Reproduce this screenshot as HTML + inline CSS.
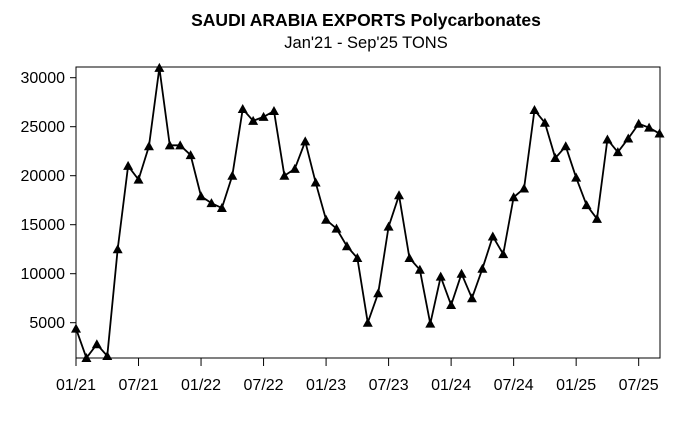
<!DOCTYPE html>
<html><head><meta charset="utf-8"><style>
body{margin:0;background:#fff;width:695px;height:425px;overflow:hidden}
svg text{font-family:"Liberation Sans",Arial,sans-serif;fill:#000}
</style></head><body>
<svg id="chart" width="695" height="425" xmlns="http://www.w3.org/2000/svg">
<text x="366" y="26" font-size="17.5" font-weight="bold" text-anchor="middle">SAUDI ARABIA EXPORTS Polycarbonates</text>
<text x="366" y="48" font-size="16.5" text-anchor="middle">Jan'21 - Sep'25 TONS</text>
<rect x="76" y="67" width="584" height="291" fill="none" stroke="#000" stroke-width="1"/>
<g id="axes"></g>
<g id="series"></g>
</svg>
<script>
const values=[4400,1400,2800,1600,12500,21000,19600,23000,31000,23100,23100,22100,
17900,17200,16700,20000,26800,25600,26000,26600,20000,20700,23500,19300,
15500,14600,12800,11600,5000,8000,14800,18000,11600,10400,4900,9700,
6800,10000,7500,10500,13800,12000,17800,18700,26700,25400,21800,23000,
19800,17000,15600,23700,22400,23800,25300,24900,24300];
const yTicks=[5000,10000,15000,20000,25000,30000];
const xTickIdx=[0,6,12,18,24,30,36,42,48,54];
const xTickLabels=["01/21","07/21","01/22","07/22","01/23","07/23","01/24","07/24","01/25","07/25"];
const NS="http://www.w3.org/2000/svg";
const x=i=>76+i*10.42;
const y=v=>322.7-(v-5000)*0.0098;
const axes=document.getElementById('axes'),ser=document.getElementById('series');
function mk(t,a,p){const e=document.createElementNS(NS,t);for(const k in a)e.setAttribute(k,a[k]);p.appendChild(e);return e;}
yTicks.forEach(v=>{
 const l=mk('line',{x1:70,x2:76,y1:y(v),y2:y(v),stroke:'#000'},axes);
 
 
 const t=mk('text',{x:65,y:y(v)+5.5,'font-size':16,'text-anchor':'end'},axes);t.textContent=v;
 
 
});
xTickIdx.forEach((i,k)=>{
 const l=mk('line',{x1:x(i),x2:x(i),y1:358,y2:366,stroke:'#000'},axes);
 
 
 const t=mk('text',{x:x(i),y:390,'font-size':16,'text-anchor':'middle'},axes);t.textContent=xTickLabels[k];
 
 
});
const pl=mk('polyline',{points:values.map((v,i)=>x(i)+','+y(v)).join(' '),fill:'none',stroke:'#000','stroke-width':1.8},ser);


values.forEach((v,i)=>{
 const cx=x(i),cy=y(v);
 const p=mk('polygon',{points:`${cx},${cy-5} ${cx-5},${cy+4} ${cx+5},${cy+4}`,fill:'#000'},ser);
 
 
});
</script>
</body></html>
